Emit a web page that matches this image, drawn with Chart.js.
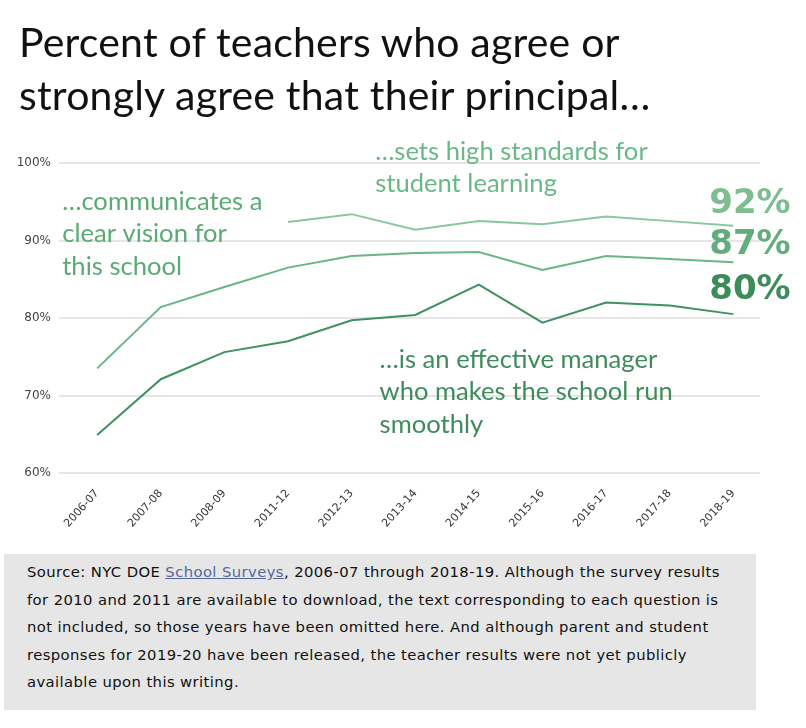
<!DOCTYPE html>
<html>
<head>
<meta charset="utf-8">
<script src="https://cdn.jsdelivr.net/npm/chart.js@4/dist/chart.umd.min.js"></script>
<style>
  html, body { margin: 0; padding: 0; background: #fff; }
  #wrap { position: relative; width: 806px; height: 728px; overflow: hidden; }
  #chart { position: absolute; left: 0; top: 0; }
  #title {
    position: absolute; left: 19px; top: 15px;
    font-family: Lato, sans-serif; font-size: 41px; line-height: 53px;
    color: #111; letter-spacing: 0.2px;
  }
  #note {
    position: absolute; left: 4px; top: 554px; width: 729px; height: 152px;
    background: #e6e6e6; padding: 4px 0 0 23px;
    font-family: "DejaVu Sans", sans-serif; font-size: 14.8px; line-height: 27.6px;
    color: #111; letter-spacing: 0.4px; white-space: nowrap;
  }
  #note a { color: #56679f; text-decoration: underline; }
</style>
</head>
<body>
<div id="wrap">
  <canvas id="chart" width="806" height="560"></canvas>
  <div id="title">Percent of teachers who agree or<br>strongly agree that their principal…</div>
  <div id="note">Source: NYC DOE <a href="#">School Surveys</a>, 2006-07 through 2018-19. Although the survey results<br>for 2010 and 2011 are available to download, the text corresponding to each question is<br>not included, so those years have been omitted here. And although parent and student<br>responses for 2019-20 have been released, the teacher results were not yet publicly<br>available upon this writing.</div>
</div>
<script>
// school years on the x axis
const categories = ['2006-07', '2007-08', '2008-09', '2011-12', '2012-13', '2013-14',
                    '2014-15', '2015-16', '2016-17', '2017-18', '2018-19'];

// percent agree / strongly agree
const standards = [null, null, null, 92.4, 93.4, 91.4, 92.5, 92.1, 93.1, 92.5, 91.9];
const vision = [73.5, 81.4, 84.0, 86.5, 88.0, 88.4, 88.5, 86.2, 88.0, 87.6, 87.2];
const manager = [64.9, 72.1, 75.6, 77.0, 79.7, 80.4, 84.3, 79.4, 82.0, 81.6, 80.5];

const endLabels = ['92%', '87%', '80%'];
const yTicks = [60, 70, 80, 90, 100];

const standardsText = ['…sets high standards for', 'student learning'];
const visionText = ['…communicates a', 'clear vision for', 'this school'];
const managerText = ['…is an effective manager', 'who makes the school run', 'smoothly'];

const colors = {
  standards: '#8ac7a0',
  vision: '#6ab584',
  manager: '#3f9160'
};

function toPoints(arr) {
  return arr.map((v, i) => ({ x: i, y: v }));
}

// annotation anchors are given in data space (x index, y value of first baseline)
const notes = [
  { lines: standardsText, x: 4.37, y: 100.4, color: '#6ab885' },
  { lines: visionText, x: -0.55, y: 94.0, color: '#5aaa74' },
  { lines: managerText, x: 4.44, y: 73.6, color: '#3d8c59' }
];

const labelsPlugin = {
  id: 'labels',
  afterDatasetsDraw(chart) {
    const ctx = chart.ctx;
    const xs = chart.scales.x;
    const ys = chart.scales.y;
    ctx.save();
    ctx.font = '25.6px Lato, sans-serif';
    ctx.textAlign = 'left';
    ctx.textBaseline = 'alphabetic';
    notes.forEach(n => {
      ctx.fillStyle = n.color;
      const x = xs.getPixelForValue(n.x);
      const y = ys.getPixelForValue(n.y);
      n.lines.forEach((t, i) => ctx.fillText(t, x, y + i * 32.5));
    });

    // end values next to the last point of each line
    const endColors = ['#7dbd8f', '#62ad7b', '#3d8c5a'];
    const shifts = [-22, -17, -24];
    ctx.font = 'bold 34px "DejaVu Sans", sans-serif';
    ctx.textBaseline = 'middle';
    chart.data.datasets.forEach((ds, i) => {
      const meta = chart.getDatasetMeta(i);
      const last = meta.data[meta.data.length - 1];
      ctx.fillStyle = endColors[i];
      ctx.fillText(endLabels[i], last.x - 24, last.y + shifts[i]);
    });
    ctx.restore();
  }
};

new Chart(document.getElementById('chart'), {
  type: 'line',
  data: {
    datasets: [
      { label: 'standards', data: toPoints(standards), borderColor: colors.standards },
      { label: 'vision', data: toPoints(vision), borderColor: colors.vision },
      { label: 'manager', data: toPoints(manager), borderColor: colors.manager }
    ]
  },
  options: {
    responsive: false,
    animation: false,
    layout: { padding: { top: 163, right: 46, left: 0, bottom: 0 } },
    elements: {
      line: { borderWidth: 2, tension: 0, fill: false },
      point: { radius: 0 }
    },
    plugins: { legend: { display: false }, tooltip: { enabled: false } },
    scales: {
      x: {
        type: 'linear',
        min: -0.6,
        max: 10.42,
        afterBuildTicks: s => { s.ticks = categories.map((c, i) => ({ value: i })); },
        afterFit: s => { s.height = 87; },
        grid: { display: false },
        border: { display: false },
        ticks: {
          minRotation: 48,
          maxRotation: 48,
          padding: 6,
          color: '#333',
          font: { family: '"DejaVu Sans", sans-serif', size: 11 },
          callback: v => categories[v]
        }
      },
      y: {
        min: 60,
        max: 100,
        afterBuildTicks: s => { s.ticks = yTicks.map(v => ({ value: v })); },
        afterFit: s => { s.width = 59; },
        grid: { color: '#e6e6e6', lineWidth: 2, drawTicks: false },
        border: { display: false },
        ticks: {
          padding: 8,
          color: '#444',
          font: { family: '"DejaVu Sans", sans-serif', size: 12 },
          callback: v => v + '%'
        }
      }
    }
  },
  plugins: [labelsPlugin]
});
</script>
</body>
</html>
